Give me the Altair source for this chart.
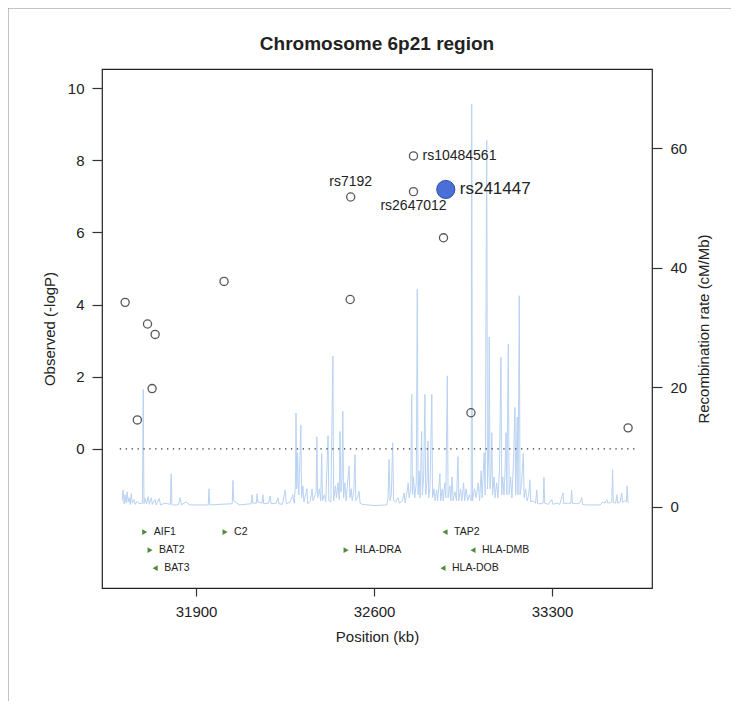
import altair as alt
import pandas as pd

TITLE = "Chromosome 6p21 region"
X_TITLE = "Position (kb)"
Y_TITLE = "Observed (-logP)"
Y2_TITLE = "Recombination rate (cM/Mb)"

x_ticks = [31900, 32600, 33300]
y_ticks = [0, 2, 4, 6, 8, 10]
y2_ticks = [0, 20, 40, 60]

# SNP association results (open circles)
snp_pos = [31621, 31669, 31709, 31727, 31739, 32010, 32508, 32506, 32755, 32755, 32873, 32981, 33599]
snp_logp = [4.06, 0.80, 3.46, 1.67, 3.17, 4.64, 6.98, 4.14, 8.12, 7.13, 5.85, 1.00, 0.58]

# lead SNP
lead_name = ["rs241447"]
lead_pos = [32882]
lead_logp = [7.19]

# labelled SNPs
label_names = ["rs7192", "rs10484561", "rs2647012"]
label_pos = [32508, 32755, 32755]
label_logp = [6.98, 8.12, 7.13]
label_place = ["above", "right", "below"]

# genes
gene_names = ["AIF1", "BAT2", "BAT3", "C2", "HLA-DRA", "TAP2", "HLA-DMB", "HLA-DOB"]
gene_pos = [31698, 31719, 31739, 32014, 32490, 32879, 32989, 32871]
gene_strand = ["+", "+", "-", "+", "+", "-", "-", "-"]
gene_row = [1, 2, 3, 1, 2, 1, 2, 3]

# significance reference line
thr_value = [0]
thr_from = [31600]
thr_to = [33630]

# recombination rate trace
rec_pos = [31609, 31613, 31617, 31621, 31625, 31629, 31633, 31637, 31641, 31645, 31649, 31656, 31660,
           31668, 31676, 31689, 31692, 31695, 31700, 31705, 31712, 31716, 31724, 31728, 31739, 31743,
           31755, 31760, 31778, 31799, 31802, 31805, 31830, 31837, 31842, 31860, 31876, 31916, 31948,
           31951, 31954, 31994, 32042, 32045, 32048, 32070, 32093, 32117, 32120, 32123, 32137, 32140,
           32143, 32160, 32163, 32166, 32185, 32191, 32195, 32215, 32222, 32226, 32240,
           32250, 32255, 32270, 32280, 32286, 32291, 32293, 32296, 32299, 32301, 32304, 32312, 32315,
           32320, 32324, 32336, 32339, 32350, 32356, 32360, 32372, 32375, 32378, 32385, 32390, 32394,
           32397, 32405, 32410, 32419, 32422, 32430, 32438, 32441, 32448, 32452, 32458, 32463, 32466,
           32470, 32474, 32477, 32480, 32485, 32490, 32495, 32502, 32505, 32510, 32514, 32520, 32525,
           32528, 32535, 32541, 32545, 32553, 32600, 32650, 32655, 32659, 32663, 32668, 32673, 32677,
           32685, 32694, 32700, 32712, 32718, 32722, 32730, 32734, 32738, 32744, 32748, 32751, 32755,
           32760, 32766, 32770, 32773, 32777, 32781, 32787, 32790, 32795, 32800, 32803, 32808, 32812,
           32815, 32820, 32827, 32830, 32836, 32840, 32846, 32850, 32859, 32862, 32868, 32872, 32878,
           32882, 32888, 32891, 32898, 32902, 32907, 32911, 32918, 32924, 32930, 32933, 32940, 32945,
           32952, 32956, 32962, 32968, 32975, 32982, 32984, 32987, 32995, 33001, 33010, 33015, 33021,
           33025, 33033, 33037, 33043, 33046, 33050, 33053, 33056, 33060, 33063, 33066, 33072, 33076,
           33082, 33087, 33093, 33099, 33102, 33106, 33111, 33115, 33119, 33122, 33128, 33131, 33137,
           33142, 33148, 33154, 33157, 33163, 33166, 33171, 33174, 33180, 33187, 33190, 33196, 33202,
           33208, 33213, 33216, 33225, 33235, 33240, 33243, 33253, 33265, 33268, 33271, 33285, 33299,
           33303, 33319, 33330, 33343, 33346, 33360, 33374, 33377, 33380, 33395, 33408, 33417, 33420,
           33433, 33489, 33500, 33508, 33515, 33519, 33535, 33538, 33541, 33550, 33555, 33558, 33568,
           33574, 33577, 33585, 33592, 33595, 33599]
rec_rate = [1.0, 2.8, 0.5, 2.0, 0.6, 2.5, 0.8, 1.5, 0.4, 2.2, 0.6, 1.2, 0.4,
            0.9, 0.5, 0.6, 19.6, 0.5, 1.4, 0.5, 1.7, 0.4, 1.5, 0.4, 1.2, 0.3,
            1.4, 0.3, 0.6, 0.4, 5.5, 0.3, 0.3, 1.5, 0.3, 0.8, 0.3, 0.3, 0.3,
            3.0, 0.3, 0.4, 0.5, 4.4, 1.0, 0.3, 0.4, 0.5, 2.0, 0.6, 0.6, 2.2,
            0.8, 0.6, 2.0, 0.5, 0.6, 1.8, 0.5, 0.6, 1.5, 0.5, 0.4,
            2.8, 0.5, 0.8, 2.0, 0.6, 4.0, 15.7, 3.0, 9.0, 5.0, 2.0, 13.7, 1.5,
            3.5, 0.8, 3.0, 0.5, 1.0, 3.0, 1.0, 2.5, 11.7, 1.5, 3.0, 1.0, 8.9,
            1.0, 2.0, 0.8, 11.9, 1.0, 0.8, 25.2, 1.0, 3.5, 1.5, 4.0, 1.2, 12.6,
            2.5, 5.0, 16.0, 1.5, 4.0, 1.0, 3.5, 6.8, 1.5, 3.0, 1.0, 2.5, 8.7,
            1.0, 1.5, 2.6, 0.6, 0.4, 0.2, 0.3, 1.5, 7.9, 1.0, 2.0, 10.7, 1.0,
            0.8, 1.5, 0.6, 1.0, 2.3, 0.6, 2.5, 4.0, 1.5, 3.0, 18.8, 2.0, 5.0,
            1.5, 4.0, 36.4, 2.0, 6.0, 1.5, 12.6, 2.0, 5.0, 18.8, 2.0, 4.0, 11.0,
            1.5, 3.5, 18.8, 1.5, 3.0, 1.0, 2.8, 1.0, 5.5, 1.0, 3.0, 1.0, 4.0,
            1.5, 21.9, 1.5, 3.5, 1.0, 5.0, 1.0, 2.5, 1.0, 8.4, 1.0, 3.0, 1.0,
            4.0, 1.0, 3.0, 1.0, 2.0, 1.0, 67.4, 1.0, 3.0, 1.5, 4.0, 1.0, 6.0,
            1.5, 9.0, 2.0, 61.3, 3.0, 8.0, 28.4, 3.0, 6.0, 12.4, 2.0, 5.0, 1.5,
            4.0, 1.5, 6.0, 25.0, 2.0, 5.0, 2.0, 6.0, 12.4, 2.0, 27.2, 2.0, 5.0,
            1.5, 7.0, 16.6, 2.0, 15.0, 2.0, 35.3, 2.0, 4.0, 9.0, 1.5, 3.0, 1.0,
            2.0, 4.5, 0.8, 1.0, 0.6, 2.8, 0.5, 0.5, 0.6, 4.9, 0.6, 0.4, 1.2,
            0.4, 0.6, 0.4, 2.3, 0.5, 0.6, 0.6, 2.8, 0.6, 0.5, 0.6, 1.5, 0.4,
            0.3, 0.3, 0.8, 0.6, 1.2, 0.6, 0.8, 6.2, 0.7, 0.6, 2.0, 0.6, 0.8,
            2.3, 0.7, 1.0, 0.8, 3.5, 0.6]

FONT = "Liberation Sans"

rec_df = pd.DataFrame({"pos": rec_pos, "rate": rec_rate, "order": list(range(len(rec_pos)))})
snp_df = pd.DataFrame({"pos": snp_pos, "logp": snp_logp})
lead_df = pd.DataFrame({"name": lead_name, "pos": lead_pos, "logp": lead_logp})
lab_df = pd.DataFrame({"name": label_names, "pos": label_pos, "logp": label_logp, "place": label_place})
gene_df = pd.DataFrame({"name": gene_names, "pos": gene_pos, "strand": gene_strand, "row": gene_row})
gene_df["logp"] = [-1.81 - 0.5 * r for r in gene_row]
thr_df = pd.DataFrame({"start": thr_from, "end": thr_to, "logp": thr_value})
title_df = pd.DataFrame({"title": [TITLE]})

xs = alt.Scale(domain=[31530, 33693], nice=False, zero=False)
ys = alt.Scale(domain=[-3.86, 10.53], nice=False, zero=False)
y2s = alt.Scale(domain=[-13.6, 73.25], nice=False, zero=False)

xaxis = alt.Axis(values=x_ticks, format="d", title=X_TITLE, tickSize=8, labelPadding=8,
                 titlePadding=10)
yaxis = alt.Axis(values=y_ticks, title=Y_TITLE, orient="left", tickSize=10, labelPadding=8,
                 titlePadding=10)
y2axis = alt.Axis(values=y2_ticks, title=Y2_TITLE, orient="right", tickSize=10, labelPadding=8,
                  titlePadding=10, titleAngle=270, titleBaseline="top")


def X(f):
    return alt.X(f, type="quantitative", scale=xs, axis=xaxis)


def Y(f):
    return alt.Y(f, type="quantitative", scale=ys, axis=yaxis)


trace = alt.Chart(rec_df).mark_line(color="#b9d2f2", strokeWidth=1, clip=True).encode(
    x=X("pos"),
    y=alt.Y("rate", type="quantitative", scale=y2s, axis=y2axis),
    order="order:Q",
)

thr = alt.Chart(thr_df).mark_rule(color="#333333", strokeWidth=1.3, strokeDash=[1.3, 4.6]).encode(
    x=X("start"), x2="end", y=Y("logp")
)

pts = alt.Chart(snp_df).mark_point(shape="circle", filled=False, color="#111111", size=66,
                                   strokeWidth=1.3).encode(x=X("pos"), y=Y("logp"))

lead = alt.Chart(lead_df).mark_point(shape="circle", filled=True, fill="#4a6fd6", stroke="#2f4ea8",
                                     strokeWidth=1, size=330, opacity=1).encode(x=X("pos"), y=Y("logp"))

lead_txt = alt.Chart(lead_df).mark_text(align="left", baseline="middle", dx=14, fontSize=17,
                                        font=FONT, color="#222222").encode(
    x=X("pos"), y=Y("logp"), text="name")

lab_above = alt.Chart(lab_df).transform_filter(alt.datum.place == "above").mark_text(
    align="center", baseline="middle", dy=-15, fontSize=14, font=FONT, color="#222222").encode(
    x=X("pos"), y=Y("logp"), text="name")
lab_right = alt.Chart(lab_df).transform_filter(alt.datum.place == "right").mark_text(
    align="left", baseline="middle", dx=9, fontSize=14, font=FONT, color="#222222").encode(
    x=X("pos"), y=Y("logp"), text="name")
lab_below = alt.Chart(lab_df).transform_filter(alt.datum.place == "below").mark_text(
    align="center", baseline="middle", dy=14, fontSize=14, font=FONT, color="#222222").encode(
    x=X("pos"), y=Y("logp"), text="name")

gene_arrow = alt.Chart(gene_df).mark_point(filled=True, size=34, color="#4e8b3c", opacity=1).encode(
    x=X("pos"), y=Y("logp"),
    shape=alt.Shape("strand:N", scale=alt.Scale(domain=["+", "-"], range=["triangle-right", "triangle-left"]),
                    legend=None),
)
gene_txt = alt.Chart(gene_df).mark_text(align="left", baseline="middle", dx=9, fontSize=10.5, font=FONT,
                                        color="#222222").encode(x=X("pos"), y=Y("logp"), text="name")

title_txt = alt.Chart(title_df).mark_text(align="center", baseline="middle", fontSize=19, font=FONT,
                                          fontWeight="bold", color="#222222").encode(
    x=alt.value(275), y=alt.value(-25), text="title")

# figure frame: only its top and left edges fall inside the page, as in the scan
frame = alt.Chart(thr_df).mark_rect(filled=False, stroke="#888888", strokeWidth=1, clip=False).encode(
    x=alt.value(-94), x2=alt.value(700), y=alt.value(-61), y2=alt.value(700)
)

inner = alt.layer(thr, pts, lead, lead_txt, lab_above, lab_right, lab_below, gene_arrow, gene_txt,
                  title_txt, frame)

chart = alt.layer(trace, inner).resolve_scale(y="independent").properties(
    width=550, height=519,
    padding={"left": 94, "top": 61, "right": 79, "bottom": 113},
    autosize=alt.AutoSizeParams(type="none"),
    background="white",
).configure_view(stroke="#222222", strokeWidth=1.2).configure_axis(
    grid=False, domain=False, labelFont=FONT, titleFont=FONT, labelFontSize=15, titleFontSize=15,
    titleFontWeight="normal", labelColor="#222222", titleColor="#222222", tickColor="#333333",
    tickWidth=1.2
)

chart.save("out.html", embed_options={"renderer": "svg", "actions": False})
